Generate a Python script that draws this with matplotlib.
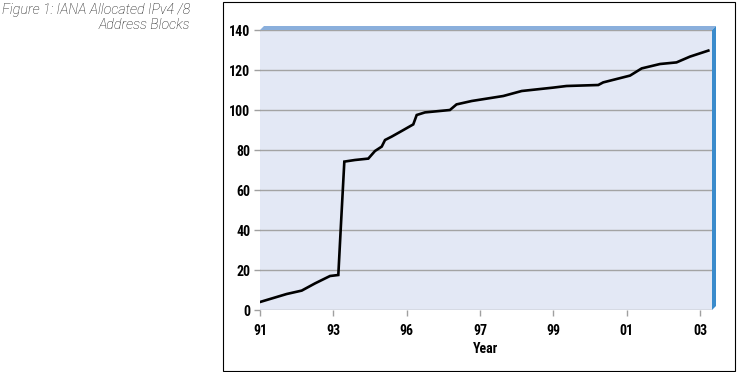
import matplotlib
matplotlib.use("Agg")
import matplotlib.pyplot as plt
from matplotlib.patches import Polygon, Rectangle
from matplotlib.font_manager import FontProperties, fontManager

# ---- data ----
year_labels = ["91", "93", "96", "97", "99", "01", "03"]
# position along the (equally spaced) year axis, in tick units
x_pos = [0.0, 0.364, 0.569, 0.75, 0.955, 1.068, 1.10, 1.15, 1.295, 1.477,
         1.568, 1.66, 1.705, 1.796, 1.932, 2.09, 2.137, 2.25, 2.59, 2.68,
         2.887, 3.18, 3.318, 3.569, 4.0, 4.18, 4.613, 4.68, 5.046, 5.205,
         5.455, 5.68, 5.864, 6.114]
blocks = [4, 8, 9.7, 13.3, 17, 17.5, 40, 74.2, 75, 75.7,
          79.5, 81.7, 85, 86.7, 89.5, 92.8, 97.5, 98.8, 100, 102.8,
          104.5, 106.2, 107, 109.5, 111.2, 112, 112.5, 113.8, 117.2, 120.8,
          123, 123.8, 126.7, 129.7]
y_ticks = [0, 20, 40, 60, 80, 100, 120, 140]
title_text = "Figure 1: IANA Allocated IPv4 /8\nAddress Blocks"
x_label = "Year"

names = {f.name for f in fontManager.ttflist}
condensed = [n for n in ["Liberation Sans Narrow", "Roboto Condensed", "Open Sans Condensed",
                         "DejaVu Sans Condensed"] if n in names]
if condensed:
    tick_fp = FontProperties(family=[condensed[0], "DejaVu Sans"], weight="bold", size=10)
else:
    tick_fp = FontProperties(family=["DejaVu Sans"], weight="bold", stretch="condensed", size=9)

W, H = 737, 372
fig = plt.figure(figsize=(W / 100, H / 100), dpi=100)
fig.patch.set_facecolor("white")

left, right, bottom, top = 260, 712, 310, 30
ax = fig.add_axes([left / W, 1 - bottom / H, (right - left) / W, (bottom - top) / H])
ax.set_facecolor("#e3e8f5")

ax.plot(x_pos, blocks, color="black", lw=1.9, solid_joinstyle="miter", zorder=3)

ax.set_xlim(0, (right - left) / 73.33)
ax.set_ylim(0, 140)
ax.set_xticks(range(len(year_labels)))
ax.set_xticklabels(year_labels)
ax.set_yticks(y_ticks)
ax.yaxis.grid(True, color="#a3a3a3", lw=1.0)
ax.set_axisbelow(True)
for s in ax.spines.values():
    s.set_visible(False)

ax.tick_params(axis="both", colors="#a0a0a0", length=4, width=1, labelcolor="black", pad=3)
ax.tick_params(axis="x", pad=6)
for lab in ax.get_xticklabels() + ax.get_yticklabels():
    lab.set_fontproperties(tick_fp)
ax.set_xlabel(x_label, fontproperties=tick_fp, labelpad=3)

# 3D-style top and side bands
dx, dy = 4 / (right - left), 4 / (bottom - top)
ax.add_patch(Polygon([(0, 1), (dx, 1 + dy), (1 + dx, 1 + dy), (1, 1)], closed=True,
                     transform=ax.transAxes, clip_on=False, facecolor="#8aafdc",
                     edgecolor="none", zorder=4))
ax.add_patch(Polygon([(1, 0), (1, 1), (1 + dx, 1 + dy), (1 + dx, dy)], closed=True,
                     transform=ax.transAxes, clip_on=False, facecolor="#3a8bcc",
                     edgecolor="none", zorder=4))

# outer frame
fig.patches.append(Rectangle((222.5 / W, 1 - 370.5 / H), (735 - 222.5) / W, (370 - 1) / H,
                             transform=fig.transFigure, fill=False, edgecolor="black",
                             lw=0.8))

fig.text(190 / W, 1 - 3 / H, title_text, ha="right", va="top", linespacing=1.1,
         family=["Roboto", "DejaVu Sans"], style="italic", weight="light",
         size=10.3, color="#111111")

fig.savefig("out.png", dpi=100)
